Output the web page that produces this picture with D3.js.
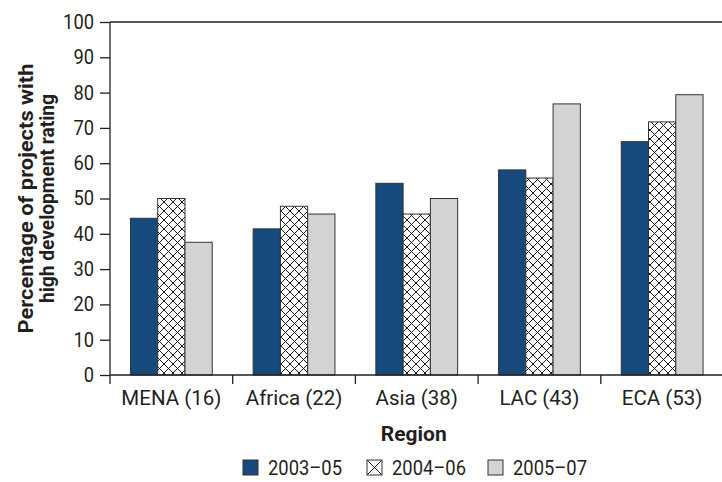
<!DOCTYPE html>
<html><head><meta charset="utf-8">
<script src="https://cdn.jsdelivr.net/npm/d3@7"></script>
<style>
body{margin:0;background:#fff;}
svg text{font-family:"Roboto","Liberation Sans",sans-serif;fill:#231f20;}
</style></head>
<body><svg id="c" width="722" height="482"></svg>
<script>
const categories = ["MENA (16)","Africa (22)","Asia (38)","LAC (43)","ECA (53)"];
const seriesNames = ["2003\u201305","2004\u201306","2005\u201307"];
const s2003_05 = [44.4, 41.4, 54.3, 58.1, 66.1];
const s2004_06 = [50.0, 47.8, 45.6, 55.8, 71.7];
const s2005_07 = [37.6, 45.6, 50.0, 76.8, 79.4];
const yTicks = [0,10,20,30,40,50,60,70,80,90,100];

const series = [s2003_05, s2004_06, s2005_07];
const svg = d3.select("#c");
const m = {l:110, t:22, r:-1.5, b:107};
const W = 722 - m.l - m.r, H = 482 - m.t - m.b;

const defs = svg.append("defs");
const pat = defs.append("pattern").attr("id","hatch").attr("patternUnits","userSpaceOnUse")
  .attr("width",9).attr("height",9);
pat.append("rect").attr("width",9).attr("height",9).attr("fill","#fff");
pat.append("path").attr("d","M0,0L9,9M9,0L0,9").attr("stroke","#1a1a1a").attr("stroke-width",1);
const pat2 = defs.append("pattern").attr("id","hatchL").attr("patternUnits","objectBoundingBox")
  .attr("width",1).attr("height",1);
pat2.append("rect").attr("width",16).attr("height",16).attr("fill","#fff");
pat2.append("path").attr("d","M0,0L15,15M15,0L0,15").attr("stroke","#222").attr("stroke-width",1);

const fills = ["#174a7c","url(#hatch)","#d1d3d4"];
const legFills = ["#174a7c","url(#hatchL)","#d1d3d4"];

const g = svg.append("g").attr("transform",`translate(${m.l},${m.t})`);
const x = d3.scaleBand().domain(categories).range([0,W]).paddingInner(0).paddingOuter(0);
const xs = d3.scaleBand().domain([0,1,2]).range([x.bandwidth()/6, x.bandwidth()*5/6]);
const y = d3.scaleLinear().domain([0,100]).range([H,0]);

// top border
g.append("line").attr("x1",0).attr("x2",W).attr("y1",0).attr("y2",0).attr("stroke","#231f20").attr("stroke-width",1.3);

// bars
categories.forEach((c,i)=>{
  series.forEach((s,j)=>{
    g.append("rect").attr("x",x(c)+xs(j)).attr("width",xs.bandwidth())
     .attr("y",y(s[i])).attr("height",H-y(s[i]))
     .attr("fill",fills[j]).attr("stroke","#333").attr("stroke-width",1);
  });
});

// y axis
const ya = g.append("g").call(d3.axisLeft(y).tickValues(yTicks).tickSize(10).tickPadding(6));
ya.selectAll("text").style("font-size","20px").attr("fill","#231f20")
  .attr("textLength",function(){return this.textContent.length*10.3;}).attr("lengthAdjust","spacingAndGlyphs");
ya.selectAll("line,path").attr("stroke","#231f20").attr("stroke-width",1.3);
ya.select(".domain").attr("d",`M0,${H}V0`);

// x axis
const xa = g.append("g").attr("transform",`translate(0,${H})`)
  .call(d3.axisBottom(x).tickSize(0).tickPadding(15));
xa.selectAll("text").style("font-size","20.5px").attr("fill","#231f20");
xa.select(".domain").attr("d",`M0,0H${W}`).attr("stroke","#231f20").attr("stroke-width",1.3);
xa.selectAll(".sep").data(d3.range(categories.length+1)).enter().append("line").attr("class","sep")
  .attr("x1",d=>d*x.bandwidth()).attr("x2",d=>d*x.bandwidth()).attr("y1",0).attr("y2",9)
  .attr("stroke","#231f20").attr("stroke-width",1.3);

// axis titles
g.append("text").attr("x",W/2-3).attr("y",H+66).attr("text-anchor","middle")
  .style("font-size","20px").style("font-weight","bold")
  .attr("textLength",66).attr("lengthAdjust","spacingAndGlyphs").text("Region");
const yt = svg.append("text").attr("transform",`translate(0,${m.t+H/2}) rotate(-90)`)
  .attr("text-anchor","middle").style("font-size","21px").style("font-weight","bold");
yt.append("tspan").attr("x",0).attr("y",33).attr("textLength",270).attr("lengthAdjust","spacingAndGlyphs").text("Percentage of projects with");
yt.append("tspan").attr("x",0).attr("y",54).attr("textLength",209).attr("lengthAdjust","spacingAndGlyphs").text("high development rating");

// legend
const legX = [243, 367, 488];
const lg = svg.append("g");
seriesNames.forEach((n,j)=>{
  lg.append("rect").attr("x",legX[j]).attr("y",460).attr("width",15).attr("height",15)
    .attr("fill",legFills[j]).attr("stroke","#333").attr("stroke-width",1);
  lg.append("text").attr("x",legX[j]+25).attr("y",475).style("font-size","20px")
    .attr("textLength",74).attr("lengthAdjust","spacingAndGlyphs").text(n);
});
</script></body></html>
